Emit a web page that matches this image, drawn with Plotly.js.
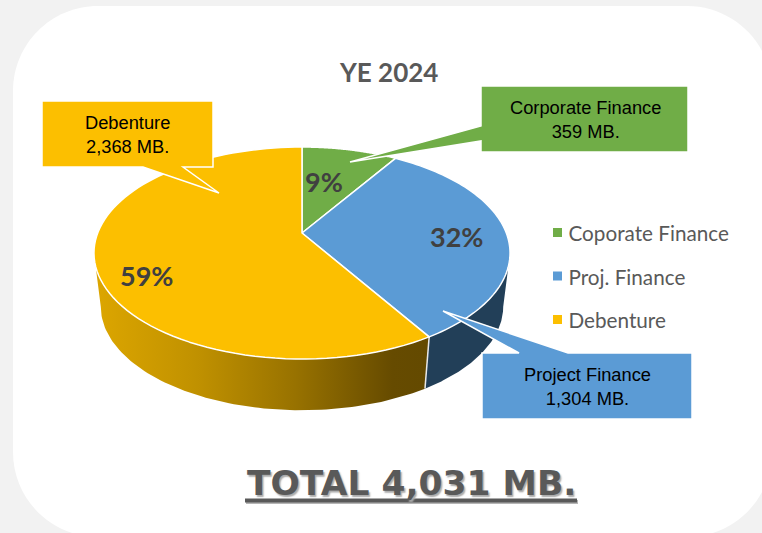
<!DOCTYPE html>
<html>
<head>
<meta charset="utf-8">
<script src="https://cdn.plot.ly/plotly-3.0.1.min.js"></script>
<style>html,body{margin:0;padding:0;background:#f2f2f2;overflow:hidden}</style>
</head>
<body>
<div id="chart" style="width:762px;height:533px"></div>
<script>
var legendNames = ['Coporate Finance', 'Proj. Finance', 'Debenture'];
var calloutNames = ['Corporate Finance', 'Project Finance', 'Debenture'];
var values = [359, 1304, 2368];
var sliceColors = ['#70ad47', '#5b9bd5', '#fcbf00'];
var chartTitle = 'YE 2024';

var total = values.reduce(function (a, b) { return a + b; }, 0);
function fmt(n) { return n.toLocaleString('en-US'); }

// tilted-disc projection (perspective): angle in degrees clockwise from 12 o'clock
var P = 0.1887, CX = 302;
var topFace = { a: 204.3, b: 102.2, cy: 233 };
var botFace = { a: 197.6, b: 100, cy: 287 };
function proj(face, deg) {
  var t = deg * Math.PI / 180, u = Math.sin(t), v = Math.cos(t), d = 1 + P * v;
  return [CX + face.a * u / d, face.cy - face.b * v / d];
}
function arc(face, from, to) {
  var pts = [], n = 90;
  for (var i = 0; i <= n; i++) pts.push(proj(face, from + (to - from) * i / n));
  return pts;
}
var cum = [0];
values.forEach(function (v, i) { cum.push(cum[i] + v / total * 360); });

function wall(from, to, extra) {
  var pts = arc(topFace, from, to).concat(arc(botFace, to, from));
  pts.push(pts[0]);
  return Object.assign({
    type: 'scatter', mode: 'lines', x: pts.map(function (p) { return p[0]; }), y: pts.map(function (p) { return p[1]; }),
    fill: 'toself', line: { width: 0 }, showlegend: false, hoverinfo: 'skip', xaxis: 'x', yaxis: 'y'
  }, extra);
}
var seamA = proj(topFace, cum[2]), seamB = proj(botFace, cum[2]);

var traces = [
  wall(cum[2], 259, {
    fillcolor: '#b58a00',
    fillgradient: { type: 'horizontal', start: 100, stop: 425,
      colorscale: [[0, '#dba500'], [0.3, '#c09100'], [0.6, '#987200'], [0.9, '#664b00'], [1, '#644a00']] }
  }),
  wall(101, cum[2], { fillcolor: '#223f58' }),
  { type: 'scatter', mode: 'lines', x: [seamA[0], seamB[0]], y: [seamA[1], seamB[1]],
    line: { color: '#e8e8e8', width: 1.5 }, showlegend: false, hoverinfo: 'skip' },
  { type: 'pie', labels: legendNames, values: values, sort: false, direction: 'clockwise', rotation: 0,
    marker: { colors: sliceColors, line: { color: '#ffffff', width: 1.5 } },
    textinfo: 'none', hoverinfo: 'label+value+percent', domain: { x: [0.15, 0.6], y: [0.3, 0.8] } }
];

var calloutFont = { family: 'Liberation Sans, Arial, sans-serif', size: 18.3, color: '#000000' };
function callout(i, x, y) {
  return { xref: 'x', yref: 'y', x: x, y: y, showarrow: false, align: 'center',
    text: calloutNames[i] + '<br>' + fmt(values[i]) + ' MB.', font: calloutFont };
}
function pct(i, x, y) {
  return { xref: 'x', yref: 'y', x: x, y: y, showarrow: false,
    text: '<b>' + Math.round(values[i] / total * 100) + '%</b>',
    font: { family: 'Lato, sans-serif', size: 27, color: '#404040' } };
}
function poly(d, fill) {
  return { type: 'path', xref: 'x', yref: 'y', layer: 'above', path: d, fillcolor: fill,
    line: { color: '#ffffff', width: 1.5 } };
}

var layout = {
  width: 762, height: 533, margin: { l: 0, r: 0, t: 0, b: 0 }, paper_bgcolor: '#f2f2f2', plot_bgcolor: 'rgba(0,0,0,0)',
  xaxis: { range: [0, 762], visible: false, fixedrange: true },
  yaxis: { range: [533, 0], visible: false, fixedrange: true },
  showlegend: true,
  legend: { x: 528.5 / 762, xanchor: 'left', y: 1 - 222 / 533, yanchor: 'top', bgcolor: 'rgba(0,0,0,0)', itemwidth: 30,
    font: { family: 'Lato, sans-serif', size: 20.7, color: '#595959' } },
  shapes: [
    { type: 'path', xref: 'x', yref: 'y', layer: 'below', fillcolor: '#ffffff', line: { width: 0 },
      path: 'M98,6 H687 C734,6 772,44 772,91 V452 C772,499 734,537 687,537 H98 C51,537 13,499 13,452 V91 C13,44 51,6 98,6 Z' },
    poly('M42,101 H213 V167 H183 L219,193 L143,167 H42 Z', sliceColors[2]),
    poly('M481,86 H688 V152 H481 V141 L350,162 L481,126 Z', sliceColors[0]),
    poly('M482,353 H519 L443,311 L568,353 H692 V419 H482 Z', sliceColors[1]),
    { type: 'line', xref: 'x', yref: 'y', layer: 'above', x0: 246, x1: 578, y0: 502, y1: 502, line: { color: '#b5b5b5', width: 4 } },
    { type: 'line', xref: 'x', yref: 'y', layer: 'above', x0: 245, x1: 577, y0: 500.5, y1: 500.5, line: { color: '#595959', width: 4 } }
  ],
  annotations: [
    { xref: 'x', yref: 'y', x: 388, y: 72, showarrow: false, text: '<b>' + chartTitle + '</b>',
      font: { family: 'Lato, sans-serif', size: 26, color: '#595959' } },
    callout(2, 127.5, 134.5),
    callout(0, 585, 119.5),
    callout(1, 587, 386.5),
    pct(0, 324, 181),
    pct(1, 456, 236),
    pct(2, 146, 275),
    { xref: 'x', yref: 'y', x: 411, y: 483, showarrow: false, text: '<b>TOTAL ' + fmt(total) + ' MB.</b>',
      font: { family: 'DejaVu Sans, sans-serif', size: 34.5, color: '#595959', shadow: '1.5px 1.5px 1.5px #aaaaaa' } }
  ]
};

Plotly.newPlot('chart', traces, layout, { displayModeBar: false, staticPlot: true }).then(function () {
  var gd = document.getElementById('chart');
  // flatten the pie's slices onto the tilted disc
  gd.querySelectorAll('.pielayer .slice path.surface').forEach(function (p, i) {
    var apex = CX + ',' + topFace.cy;
    var d = 'M' + apex + arc(topFace, cum[i], cum[i + 1]).map(function (q) { return 'L' + q[0].toFixed(2) + ',' + q[1].toFixed(2); }).join('') + 'Z';
    p.setAttribute('d', d);
  });
  // spread the legend rows
  var lg = gd.querySelector('.legend');
  lg.querySelectorAll('[clip-path]').forEach(function (n) { n.removeAttribute('clip-path'); });
  lg.querySelectorAll('.traces').forEach(function (t, i) {
    t.setAttribute('transform', 'translate(0,' + (11 + i * 43.5) + ')');
  });
  lg.querySelectorAll('.legendpoints path').forEach(function (p) {
    p.setAttribute('transform', 'translate(29,-0.5) scale(0.75)');
    p.style.strokeWidth = '0';
  });
});
</script>
</body>
</html>
